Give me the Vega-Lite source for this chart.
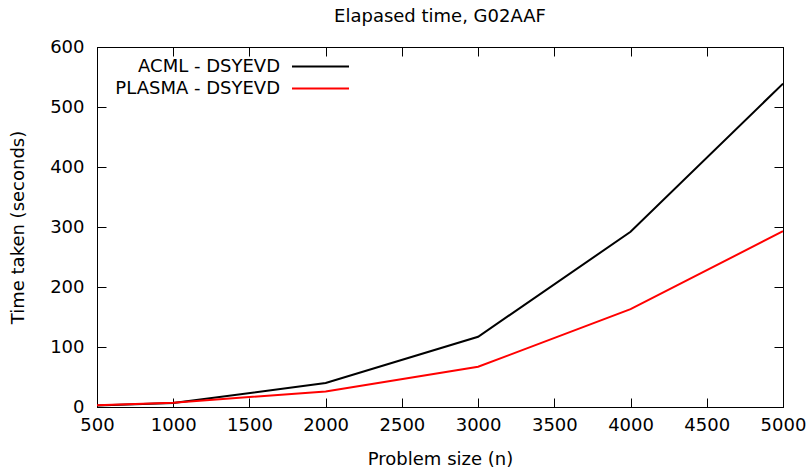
{
  "$schema": "https://vega.github.io/schema/vega-lite/v6.json",
  "width": 686,
  "height": 360,
  "autosize": "none",
  "padding": {"left": 97, "top": 47, "right": 27, "bottom": 62},
  "background": "white",
  "title": {"text": "Elapased time, G02AAF", "font": "DejaVu Sans", "fontSize": 18, "fontWeight": "normal", "color": "black", "offset": 12, "anchor": "middle"},
  "config": {
    "view": {"stroke": "black", "strokeWidth": 1},
    "axis": {
      "font": "DejaVu Sans",
      "labelFont": "DejaVu Sans", "labelFontSize": 18, "labelColor": "black",
      "titleFont": "DejaVu Sans", "titleFontSize": 18, "titleFontWeight": "normal", "titleColor": "black",
      "grid": false, "domainColor": "black", "tickColor": "black", "tickOpacity": 1, "tickWidth": 1, "tickSize": -9, "ticks": true,
      "labelFlush": false, "labelOverlap": false, "format": "d"
    }
  },
  "resolve": {"axis": {"x": "independent", "y": "independent"}},
  "data": {"values": [
    {"n": 500, "t": 2.5, "s": "ACML - DSYEVD"},
    {"n": 1000, "t": 6.5, "s": "ACML - DSYEVD"},
    {"n": 2000, "t": 40, "s": "ACML - DSYEVD"},
    {"n": 3000, "t": 117, "s": "ACML - DSYEVD"},
    {"n": 4000, "t": 292, "s": "ACML - DSYEVD"},
    {"n": 5000, "t": 539, "s": "ACML - DSYEVD"},
    {"n": 500, "t": 3, "s": "PLASMA - DSYEVD"},
    {"n": 1000, "t": 7, "s": "PLASMA - DSYEVD"},
    {"n": 2000, "t": 26, "s": "PLASMA - DSYEVD"},
    {"n": 3000, "t": 67, "s": "PLASMA - DSYEVD"},
    {"n": 4000, "t": 163, "s": "PLASMA - DSYEVD"},
    {"n": 5000, "t": 293, "s": "PLASMA - DSYEVD"}
  ]},
  "layer": [
    {
      "mark": {"type": "line", "opacity": 0},
      "encoding": {
        "x": {"field": "n", "type": "quantitative", "scale": {"domain": [500, 5000], "nice": false, "zero": false},
              "axis": {"orient": "top", "labels": false, "title": null, "tickSize": -9, "values": [500,1000,1500,2000,2500,3000,3500,4000,4500,5000]}},
        "y": {"field": "t", "type": "quantitative", "scale": {"domain": [0, 600], "nice": false},
              "axis": {"orient": "right", "labels": false, "title": null, "tickSize": -9, "values": [0,100,200,300,400,500,600]}}
      }
    },
    {
      "mark": {"type": "line", "opacity": 0},
      "encoding": {
        "x": {"field": "n", "type": "quantitative",
              "axis": {"orient": "bottom", "labels": false, "title": null, "domain": false, "tickSize": 9, "offset": -9, "values": [500,1000,1500,2000,2500,3000,3500,4000,4500,5000]}},
        "y": {"field": "t", "type": "quantitative",
              "axis": {"orient": "left", "labels": false, "title": null, "domain": false, "tickSize": 9, "offset": -9, "values": [0,100,200,300,400,500,600]}}
      }
    },
    {
      "mark": {"type": "line", "strokeWidth": 2, "clip": true},
      "encoding": {
        "x": {"field": "n", "type": "quantitative",
              "axis": {"orient": "bottom", "title": "Problem size (n)", "format": "d", "ticks": false, "labelPadding": 9, "values": [500,1000,1500,2000,2500,3000,3500,4000,4500,5000], "titlePadding": 16}},
        "y": {"field": "t", "type": "quantitative",
              "axis": {"orient": "left", "title": "Time taken (seconds)", "format": "d", "ticks": false, "labelPadding": 13, "values": [0,100,200,300,400,500,600], "titlePadding": 22}},
        "color": {"field": "s", "type": "nominal", "sort": ["ACML - DSYEVD", "PLASMA - DSYEVD"],
                  "scale": {"domain": ["ACML - DSYEVD", "PLASMA - DSYEVD"], "range": ["black", "red"]},
                  "legend": {"title": null, "orient": "none", "legendX": 213, "legendY": 9, "padding": 0,
                             "symbolType": "M-3,0H3", "symbolSize": 361, "symbolStrokeWidth": 2,
                             "labelAlign": "right", "labelOffset": -51, "labelFont": "DejaVu Sans", "labelFontSize": 18,
                             "labelColor": "black", "rowPadding": 2, "labelLimit": 400}}
      }
    }
  ]
}
